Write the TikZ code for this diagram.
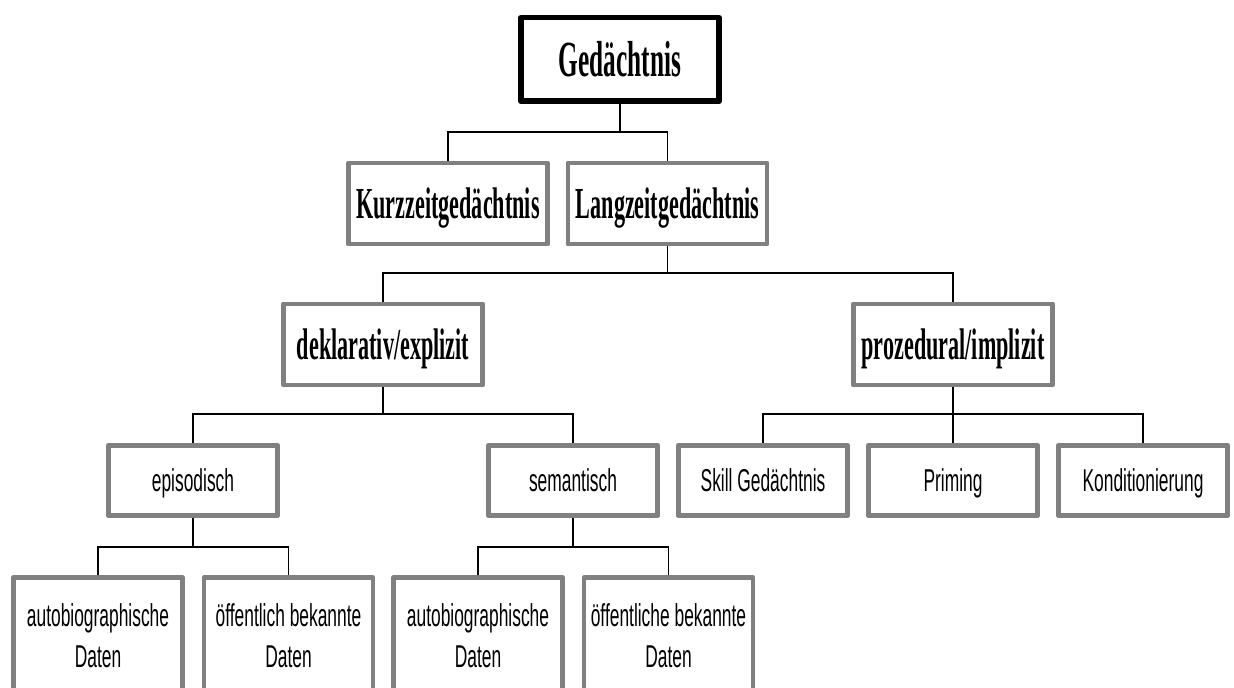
\documentclass[tikz,border=0pt]{standalone}
\usepackage{fontspec}
\setmainfont{Liberation Serif}
\newfontfamily\headfont{Liberation Serif}[FakeStretch=0.5]
\newfontfamily\leaffont{Liberation Sans}[FakeStretch=0.55]
\usepackage{tikz}
\usetikzlibrary{positioning}
\definecolor{boxgray}{HTML}{808080}
\pgfdeclarelayer{background}
\pgfsetlayers{background,main}

\begin{document}
\begin{tikzpicture}[
    x=0.02cm, y=-0.02cm, % one unit is one pixel, y runs downwards
    conn/.style={draw=black, line width=0.024cm},
    hconn/.style={draw=black, line width=0.04cm},
    box/.style={draw=boxgray, line width=0.09cm, fill=white, inner sep=0pt, line join=round,
        % top and bottom edges are a bit heavier than the sides
        path picture={
            \fill[boxgray] (path picture bounding box.north west) rectangle
                ([yshift=-0.05cm]path picture bounding box.north east);
            \fill[boxgray] (path picture bounding box.south west) rectangle
                ([yshift=0.05cm]path picture bounding box.south east);
        }},
    topbox/.style={box, draw=black, line width=0.11cm, minimum width=3.97cm, minimum height=1.67cm,
        path picture={},
        font=\headfont\bfseries\fontsize{28.8}{32}\selectfont, text height=0.673cm, text depth=0pt},
    headbox/.style={box, minimum width=3.99cm, minimum height=1.63cm,
        font=\headfont\bfseries\fontsize{25.2}{28}\selectfont, text height=0.587cm, text depth=0pt},
    subbox/.style={box, minimum width=3.39cm, minimum height=1.41cm,
        font=\leaffont\fontsize{18}{23.3}\selectfont, text height=0.453cm, text depth=0pt},
    leafbox/.style={box, minimum width=3.39cm, minimum height=2.32cm, align=center,
        font=\leaffont\fontsize{18}{23.3}\selectfont}
]
    \useasboundingbox (0,0) rectangle (1234,688);

    % Top of the tree
    \node[topbox] (ged) at (620,59.5) {Gedächtnis};

    % First level
    \node[headbox] (kurz) at (448,203.5) {Kurzzeitgedächtnis};
    \node[headbox] (lang) at (667.5,203.5) {Langzeitgedächtnis};

    % Second level
    \node[headbox] (dekl) at (383,344.5) {deklarativ/explizit};
    \node[headbox] (proz) at (953,344.5) {prozedural/implizit};

    % Third level
    \node[subbox] (epis) at (193,480.5) {episodisch};
    \node[subbox] (sem) at (573,480.5) {semantisch};
    \node[subbox] (skill) at (763,480.5) {Skill Gedächtnis};
    \node[subbox] (prim) at (953,480.5) {Priming};
    \node[subbox] (kond) at (1143,480.5) {Konditionierung};

    % Leaves (cut off at the bottom)
    \node[leafbox] (epauto) at (98,635.5) {autobiographische\\Daten};
    \node[leafbox] (epoeff) at (288.5,635.5) {öffentlich bekannte\\Daten};
    \node[leafbox] (seauto) at (478,635.5) {autobiographische\\Daten};
    \node[leafbox] (seoeff) at (668.5,635.5) {öffentliche bekannte\\Daten};

    % Junction points of the forks
    \coordinate (j1) at (620,132);
    \coordinate (j2) at (667.5,273);
    \coordinate (j3) at (383,414);
    \coordinate (j4) at (953,414);
    \coordinate (j5) at (193,547);
    \coordinate (j6) at (573,547);

    % Connectors behind the boxes
    \begin{pgfonlayer}{background}
        \draw[conn] (ged.south) -- (j1);
        \draw[conn] (kurz.north) |- (j1) -| (lang.north);
        \draw[hconn] (kurz.north |- j1) -- (lang.north |- j1);

        \draw[conn] (lang.south) -- (j2);
        \draw[conn] (dekl.north) |- (j2) -| (proz.north);
        \draw[hconn] (dekl.north |- j2) -- (proz.north |- j2);

        \draw[conn] (dekl.south) -- (j3);
        \draw[conn] (epis.north) |- (j3) -| (sem.north);
        \draw[hconn] (epis.north |- j3) -- (sem.north |- j3);

        \draw[conn] (proz.south) -- (prim.north);
        \draw[conn] (skill.north) |- (j4) -| (kond.north);
        \draw[hconn] (skill.north |- j4) -- (kond.north |- j4);

        \draw[conn] (epis.south) -- (j5);
        \draw[conn] (epauto.north) |- (j5) -| (epoeff.north);
        \draw[hconn] (epauto.north |- j5) -- (epoeff.north |- j5);

        \draw[conn] (sem.south) -- (j6);
        \draw[conn] (seauto.north) |- (j6) -| (seoeff.north);
        \draw[hconn] (seauto.north |- j6) -- (seoeff.north |- j6);
    \end{pgfonlayer}
\end{tikzpicture}
\end{document}
